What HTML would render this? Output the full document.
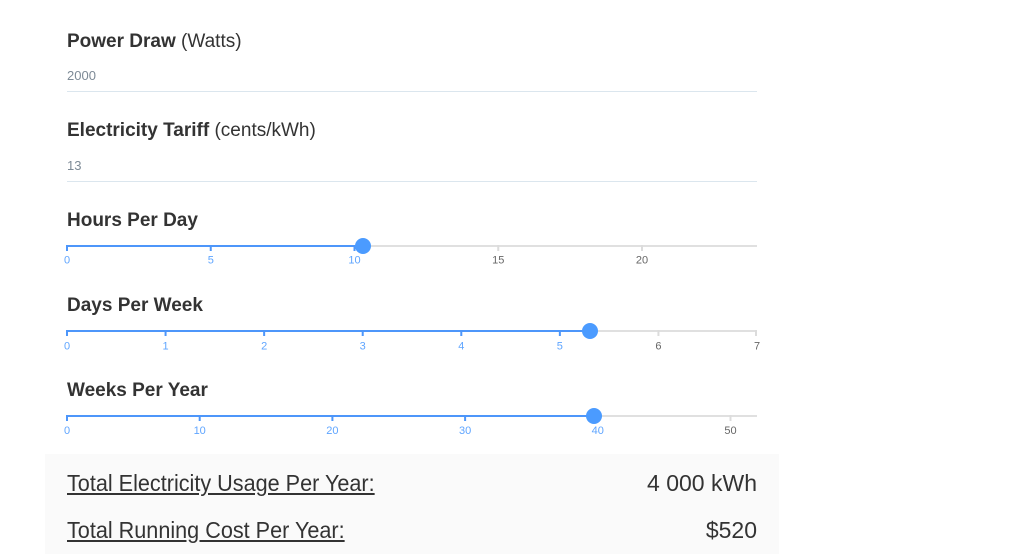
<!DOCTYPE html>
<html><head><meta charset="utf-8">
<style>
html,body{margin:0;padding:0;background:#fff;}
body{width:1017px;height:554px;position:relative;overflow:hidden;font-family:"Liberation Sans",sans-serif;color:#333;}
.t{position:absolute;left:67px;font-size:19px;line-height:19px;white-space:nowrap;color:#333;}
.t b{font-weight:bold;}
.v{position:absolute;left:67px;font-size:13px;line-height:13px;color:#7d8a96;}
.ln{position:absolute;left:67px;width:690px;height:1px;background:#dbe6ee;}
.panel{position:absolute;left:45px;top:454px;width:734px;height:100px;background:#fafafa;}
.bl{position:absolute;left:67px;font-size:23px;line-height:23px;text-decoration:underline;white-space:nowrap;color:#333;transform:scaleX(0.94);transform-origin:left center;}
.br{position:absolute;right:260px;font-size:23px;line-height:23px;white-space:nowrap;color:#333;}
svg{position:absolute;left:0;top:0;}
</style></head><body>
<div class="t" style="top:32px"><b>Power Draw</b> (Watts)</div>
<div class="v" style="top:69px">2000</div>
<div class="ln" style="top:91px"></div>
<div class="t" style="top:121px"><b>Electricity Tariff</b> (cents/kWh)</div>
<div class="v" style="top:159px">13</div>
<div class="ln" style="top:181px"></div>
<div class="t" style="top:211px"><b>Hours Per Day</b></div>
<div class="t" style="top:296px"><b>Days Per Week</b></div>
<div class="t" style="top:381px"><b>Weeks Per Year</b></div>

<div class="panel"></div>
<div class="bl" style="top:471.5px">Total Electricity Usage Per Year:</div>
<div class="br" style="top:471.5px">4 000 kWh</div>
<div class="bl" style="top:518.5px">Total Running Cost Per Year:</div>
<div class="br" style="top:518.5px">$520</div>

<svg width="1017" height="554" xmlns="http://www.w3.org/2000/svg" font-family="Liberation Sans, sans-serif" font-size="11">
<!-- Hours -->
<rect x="67" y="245" width="690" height="2" fill="#e0e0e0"/>
<rect x="67" y="245" width="296" height="2" fill="#4d96fa"/>
<g fill="#4d96fa">
<rect x="66" y="245" width="2" height="6"/><rect x="209.75" y="245" width="2" height="6"/><rect x="353.5" y="245" width="2" height="6"/>
</g>
<g fill="#dcdcdc">
<rect x="497.25" y="245" width="2" height="6"/><rect x="641" y="245" width="2" height="6"/>
</g>
<g text-anchor="middle">
<text x="67" y="263.3" fill="#5fa5ff">0</text>
<text x="210.75" y="263.3" fill="#5fa5ff">5</text>
<text x="354.5" y="263.3" fill="#5fa5ff">10</text>
<text x="498.25" y="263.3" fill="#666">15</text>
<text x="642" y="263.3" fill="#666">20</text>
</g>
<circle cx="363" cy="246" r="8" fill="#4b9bff"/>

<!-- Days -->
<rect x="67" y="330" width="690" height="2" fill="#e0e0e0"/>
<rect x="67" y="330" width="523" height="2" fill="#4d96fa"/>
<g fill="#4d96fa">
<rect x="66" y="330" width="2" height="6"/><rect x="164.57" y="330" width="2" height="6"/><rect x="263.14" y="330" width="2" height="6"/><rect x="361.71" y="330" width="2" height="6"/><rect x="460.29" y="330" width="2" height="6"/><rect x="558.86" y="330" width="2" height="6"/>
</g>
<g fill="#dcdcdc">
<rect x="657.43" y="330" width="2" height="6"/><rect x="755" y="330" width="2" height="6"/>
</g>
<g text-anchor="middle">
<text x="67" y="349.3" fill="#5fa5ff">0</text>
<text x="165.57" y="349.3" fill="#5fa5ff">1</text>
<text x="264.14" y="349.3" fill="#5fa5ff">2</text>
<text x="362.71" y="349.3" fill="#5fa5ff">3</text>
<text x="461.29" y="349.3" fill="#5fa5ff">4</text>
<text x="559.86" y="349.3" fill="#5fa5ff">5</text>
<text x="658.43" y="349.3" fill="#666">6</text>
<text x="757" y="349.3" fill="#666">7</text>
</g>
<circle cx="590" cy="331" r="8" fill="#4b9bff"/>

<!-- Weeks -->
<rect x="67" y="415" width="690" height="2" fill="#e0e0e0"/>
<rect x="67" y="415" width="527" height="2" fill="#4d96fa"/>
<g fill="#4d96fa">
<rect x="66" y="415" width="2" height="6"/><rect x="198.7" y="415" width="2" height="6"/><rect x="331.4" y="415" width="2" height="6"/><rect x="464.1" y="415" width="2" height="6"/><rect x="596.8" y="415" width="2" height="6"/>
</g>
<g fill="#dcdcdc">
<rect x="729.5" y="415" width="2" height="6"/>
</g>
<g text-anchor="middle">
<text x="67" y="434" fill="#5fa5ff">0</text>
<text x="199.7" y="434" fill="#5fa5ff">10</text>
<text x="332.4" y="434" fill="#5fa5ff">20</text>
<text x="465.1" y="434" fill="#5fa5ff">30</text>
<text x="597.8" y="434" fill="#5fa5ff">40</text>
<text x="730.5" y="434" fill="#666">50</text>
</g>
<circle cx="594" cy="416" r="8" fill="#4b9bff"/>
</svg>
</body></html>
